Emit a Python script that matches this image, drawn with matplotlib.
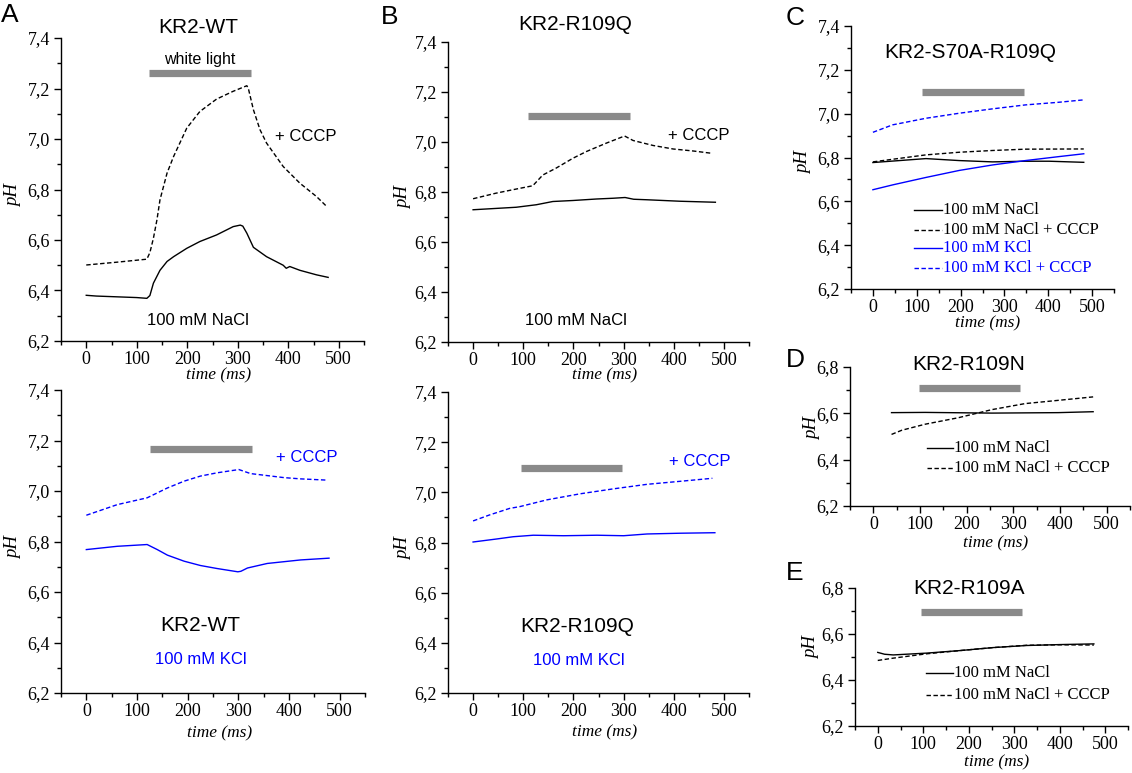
import matplotlib
matplotlib.use("Agg")
import matplotlib.pyplot as plt
from matplotlib.ticker import MultipleLocator, FuncFormatter

plt.rcParams['font.family'] = ['Liberation Serif', 'DejaVu Serif']
SANS = ['Liberation Sans', 'DejaVu Sans']
BLUE = '#0000ff'
GRAY = '#8a8a8a'

# ---------------- data ----------------
# Panel A top (KR2-WT, 100 mM NaCl)
A1_t_nacl = [0, 20, 60, 100, 120, 126, 133, 146, 160, 173, 199, 225, 258, 291, 305, 310, 318, 331, 357, 390, 396, 403, 423, 456, 479]
A1_ph_nacl = [6.381, 6.378, 6.375, 6.372, 6.369, 6.38, 6.429, 6.48, 6.515, 6.534, 6.567, 6.594, 6.62, 6.653, 6.659, 6.655, 6.627, 6.571, 6.534, 6.50, 6.488, 6.495, 6.48, 6.462, 6.452]
A1_t_cccp = [0, 60, 120, 126, 133, 140, 146, 160, 173, 199, 225, 258, 291, 318, 321, 331, 344, 357, 390, 423, 456, 476]
A1_ph_cccp = [6.501, 6.512, 6.524, 6.55, 6.607, 6.68, 6.759, 6.865, 6.931, 7.043, 7.109, 7.158, 7.189, 7.211, 7.20, 7.116, 7.037, 6.984, 6.891, 6.825, 6.772, 6.733]
A1_light = [125, 326, 7.263]

# Panel A bottom (KR2-WT, 100 mM KCl)
A2_t_kcl = [0, 61, 120, 140, 160, 193, 225, 258, 299, 305, 318, 357, 390, 423, 479]
A2_ph_kcl = [6.768, 6.781, 6.788, 6.768, 6.746, 6.722, 6.705, 6.693, 6.68, 6.682, 6.695, 6.713, 6.72, 6.727, 6.734]
A2_t_cccp = [0, 61, 120, 160, 193, 225, 258, 301, 324, 357, 390, 423, 476]
A2_ph_cccp = [6.904, 6.946, 6.973, 7.012, 7.039, 7.059, 7.072, 7.085, 7.069, 7.061, 7.053, 7.048, 7.043]
A2_light = [125, 326, 7.167]

# Panel B top (KR2-R109Q, 100 mM NaCl)
B1_t_nacl = [0, 86, 126, 159, 199, 246, 279, 303, 320, 346, 413, 483]
B1_ph_nacl = [6.729, 6.739, 6.749, 6.762, 6.766, 6.772, 6.775, 6.778, 6.771, 6.769, 6.763, 6.759]
B1_t_cccp = [0, 45, 79, 119, 139, 165, 199, 226, 265, 302, 319, 359, 399, 439, 475]
B1_ph_cccp = [6.773, 6.795, 6.809, 6.825, 6.868, 6.895, 6.935, 6.962, 6.995, 7.024, 7.006, 6.986, 6.972, 6.964, 6.955]
B1_light = [109, 312, 7.104]

# Panel B bottom (KR2-R109Q, 100 mM KCl)
B2_t_kcl = [0, 47, 80, 120, 180, 247, 300, 347, 413, 482]
B2_ph_kcl = [6.802, 6.814, 6.823, 6.829, 6.827, 6.829, 6.827, 6.834, 6.837, 6.839]
B2_t_cccp = [0, 33, 73, 93, 147, 213, 280, 347, 413, 477]
B2_ph_cccp = [6.886, 6.91, 6.936, 6.943, 6.97, 6.994, 7.014, 7.032, 7.044, 7.056]
B2_light = [95, 297, 7.097]

# Panel C (KR2-S70A-R109Q)
C_t_nacl = [0, 121, 197, 273, 348, 402, 481]
C_ph_nacl = [6.777, 6.795, 6.786, 6.78, 6.783, 6.783, 6.778]
C_t_nacl_cccp = [0, 121, 197, 273, 348, 481]
C_ph_nacl_cccp = [6.78, 6.812, 6.824, 6.832, 6.838, 6.839]
C_t_kcl = [0, 45, 121, 197, 273, 348, 424, 481]
C_ph_kcl = [6.653, 6.675, 6.709, 6.741, 6.766, 6.786, 6.804, 6.817]
C_t_kcl_cccp = [0, 45, 121, 197, 273, 348, 424, 481]
C_ph_kcl_cccp = [6.915, 6.949, 6.979, 7.002, 7.022, 7.04, 7.052, 7.063]
C_light = [113, 345, 7.10]

# Panel D (KR2-R109N)
D_t_nacl = [39, 111, 254, 396, 471]
D_ph_nacl = [6.603, 6.604, 6.601, 6.603, 6.607]
D_t_cccp = [39, 61, 111, 182, 254, 325, 396, 471]
D_ph_cccp = [6.509, 6.527, 6.553, 6.581, 6.616, 6.642, 6.656, 6.671]
D_light = [98, 315, 6.709]

# Panel E (KR2-R109A)
E_t_nacl = [0, 15, 34, 108, 181, 254, 327, 400, 475]
E_ph_nacl = [6.52, 6.512, 6.509, 6.517, 6.528, 6.541, 6.55, 6.554, 6.557]
E_t_cccp = [0, 34, 108, 181, 254, 327, 400, 475]
E_ph_cccp = [6.485, 6.495, 6.514, 6.528, 6.541, 6.551, 6.553, 6.552]
E_light = [94, 317, 6.697]

x_ticks = [0, 100, 200, 300, 400, 500]
y_ticks_big = [6.2, 6.4, 6.6, 6.8, 7.0, 7.2, 7.4]
y_ticks_small = [6.2, 6.4, 6.6, 6.8]

# ---------------- figure ----------------
W, H = 1132, 773
fig = plt.figure(figsize=(W / 100, H / 100), dpi=100)


def px_axes(x0, x1, ytop, ybot):
    return fig.add_axes([x0 / W, 1 - ybot / H, (x1 - x0) / W, (ybot - ytop) / H])


DASH = (0, (3.2, 1.8))
LW = 1.0


def style(ax, yticks, ylim, xlab_y, ylab_x, ylab_y=0.48):
    ax.set_xlim(-50, 550)
    ax.set_ylim(*ylim)
    ax.set_xticks(x_ticks)
    ax.set_yticks(yticks)
    ax.xaxis.set_minor_locator(MultipleLocator(50))
    ax.yaxis.set_minor_locator(MultipleLocator(0.1))
    ax.yaxis.set_major_formatter(FuncFormatter(lambda v, p: f"{v:.1f}".replace('.', ',')))
    ax.xaxis.set_major_formatter(FuncFormatter(lambda v, p: f"{int(round(v))}"))
    for s in ['top', 'right']:
        ax.spines[s].set_visible(False)
    for s in ['left', 'bottom']:
        ax.spines[s].set_linewidth(1.0)
    ax.tick_params(which='major', direction='out', length=5, width=1.0, labelsize=13)
    ax.tick_params(which='minor', direction='out', length=3, width=1.0)
    ax.tick_params(axis='x', pad=2)
    ax.tick_params(axis='y', pad=3)
    ax.set_xlabel('time (ms)', fontstyle='italic', fontsize=12.5)
    ax.set_ylabel('pH', fontstyle='italic', fontsize=13.5)
    ax.xaxis.set_label_coords(0.52, xlab_y)
    ax.yaxis.set_label_coords(ylab_x, ylab_y)
    ax.xaxis.label.set_va('center')
    ax.yaxis.label.set_va('center')
    ax.patch.set_alpha(0)


def light(ax, bar):
    ax.plot([bar[0], bar[1]], [bar[2], bar[2]], color=GRAY, lw=5.2, solid_capstyle='butt', zorder=3)


def stxt(ax, x, y, s, size=12, color='black'):
    ax.text(x, y, s, ha='center', va='center', fontsize=size, color=color, family=SANS, clip_on=False)


# Panel A top
ax = px_axes(61, 364, 38, 341)
ax.plot(A1_t_nacl, A1_ph_nacl, color='black', lw=LW)
ax.plot(A1_t_cccp, A1_ph_cccp, color='black', lw=LW, ls=DASH)
light(ax, A1_light)
style(ax, y_ticks_big, (6.2, 7.4), -0.112, -0.155)
stxt(ax, 222, 7.44, 'KR2-WT', 15)
stxt(ax, 225, 7.314, 'white light', 11.5)
stxt(ax, 435, 7.01, '+ CCCP', 12)
stxt(ax, 222, 6.283, '100 mM NaCl', 12)

# Panel A bottom
ax = px_axes(61, 365, 390, 693)
ax.plot(A2_t_kcl, A2_ph_kcl, color=BLUE, lw=LW)
ax.plot(A2_t_cccp, A2_ph_cccp, color=BLUE, lw=LW, ls=DASH)
light(ax, A2_light)
style(ax, y_ticks_big, (6.2, 7.4), -0.132, -0.155)
stxt(ax, 436, 7.131, '+ CCCP', 12, BLUE)
stxt(ax, 224, 6.467, 'KR2-WT', 15)
stxt(ax, 225, 6.332, '100 mM KCl', 12, BLUE)

# Panel B top
ax = px_axes(448, 749, 42, 342)
ax.plot(B1_t_nacl, B1_ph_nacl, color='black', lw=LW)
ax.plot(B1_t_cccp, B1_ph_cccp, color='black', lw=LW, ls=DASH)
light(ax, B1_light)
style(ax, y_ticks_big, (6.2, 7.4), -0.112, -0.146)
stxt(ax, 204, 7.468, 'KR2-R109Q', 15)
stxt(ax, 449, 7.028, '+ CCCP', 12)
stxt(ax, 205, 6.287, '100 mM NaCl', 12)

# Panel B bottom
ax = px_axes(448, 749, 392, 693)
ax.plot(B2_t_kcl, B2_ph_kcl, color=BLUE, lw=LW)
ax.plot(B2_t_cccp, B2_ph_cccp, color=BLUE, lw=LW, ls=DASH)
light(ax, B2_light)
style(ax, y_ticks_big, (6.2, 7.4), -0.132, -0.146)
stxt(ax, 452, 7.123, '+ CCCP', 12, BLUE)
stxt(ax, 207, 6.466, 'KR2-R109Q', 15)
stxt(ax, 210, 6.33, '100 mM KCl', 12, BLUE)


def manual_legend(ax, x0, x1, rows):
    for y, ls, color, label in rows:
        ax.plot([x0, x1], [y, y], transform=ax.transAxes, color=color, lw=LW, ls=ls, clip_on=False)
        ax.text(x1 + 0.005, y, label, transform=ax.transAxes, ha='left', va='center',
                fontsize=12, color=color)


# Panel C
ax = px_axes(851, 1114, 26, 289)
ax.plot(C_t_nacl, C_ph_nacl, color='black', lw=LW)
ax.plot(C_t_nacl_cccp, C_ph_nacl_cccp, color='black', lw=LW, ls=DASH)
ax.plot(C_t_kcl, C_ph_kcl, color=BLUE, lw=LW)
ax.plot(C_t_kcl_cccp, C_ph_kcl_cccp, color=BLUE, lw=LW, ls=DASH)
light(ax, C_light)
style(ax, y_ticks_big, (6.2, 7.4), -0.13, -0.18)
stxt(ax, 222, 7.278, 'KR2-S70A-R109Q', 15)
manual_legend(ax, 0.24, 0.346, [
    (0.30, '-', 'black', '100 mM NaCl'),
    (0.224, DASH, 'black', '100 mM NaCl + CCCP'),
    (0.156, '-', BLUE, '100 mM KCl'),
    (0.08, DASH, BLUE, '100 mM KCl + CCCP'),
])

# Panel D
ax = px_axes(850, 1130, 367, 506)
ax.plot(D_t_nacl, D_ph_nacl, color='black', lw=LW)
ax.plot(D_t_cccp, D_ph_cccp, color='black', lw=LW, ls=DASH)
light(ax, D_light)
style(ax, y_ticks_small, (6.2, 6.8), -0.27, -0.135, 0.56)
stxt(ax, 205, 6.81, 'KR2-R109N', 15)
manual_legend(ax, 0.275, 0.368, [
    (0.417, '-', 'black', '100 mM NaCl'),
    (0.273, DASH, 'black', '100 mM NaCl + CCCP'),
])

# Panel E
ax = px_axes(855, 1128, 588, 726)
ax.plot(E_t_nacl, E_ph_nacl, color='black', lw=LW)
ax.plot(E_t_cccp, E_ph_cccp, color='black', lw=LW, ls=DASH)
light(ax, E_light)
style(ax, y_ticks_small, (6.2, 6.8), -0.265, -0.16, 0.57)
stxt(ax, 201, 6.80, 'KR2-R109A', 15)
manual_legend(ax, 0.26, 0.359, [
    (0.384, '-', 'black', '100 mM NaCl'),
    (0.225, DASH, 'black', '100 mM NaCl + CCCP'),
])

# Panel letters
for lx, ly, letter in [(1, 15, 'A'), (381, 17, 'B'), (786, 18, 'C'), (786, 360, 'D'), (786, 573, 'E')]:
    fig.text(lx / W, 1 - ly / H, letter, ha='left', va='center', fontsize=19, family=SANS)

fig.savefig('out.png', dpi=100)
